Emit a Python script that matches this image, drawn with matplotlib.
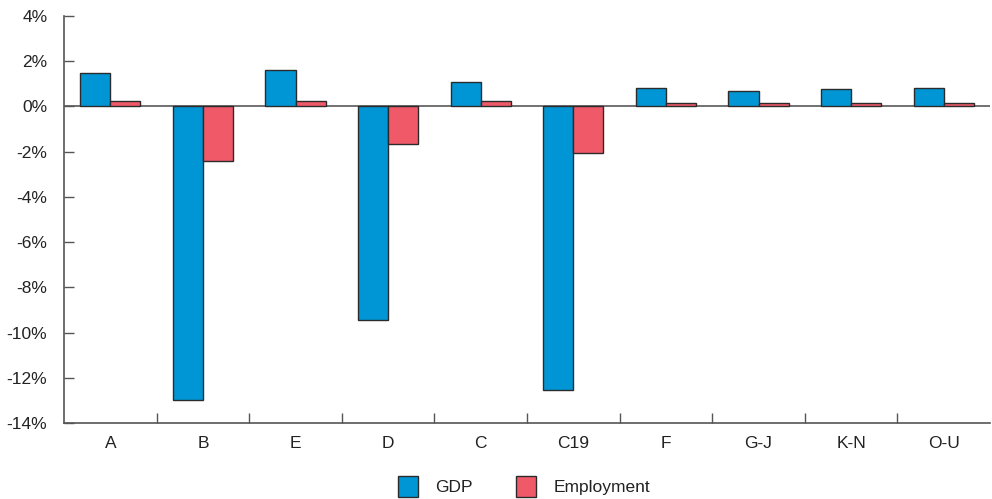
import matplotlib
matplotlib.use("Agg")
import matplotlib.pyplot as plt
import numpy as np
from matplotlib.ticker import FixedLocator, FuncFormatter

plt.rcParams['font.family'] = ['Liberation Sans', 'DejaVu Sans']

categories = ["A", "B", "E", "D", "C", "C19", "F", "G-J", "K-N", "O-U"]
gdp = [1.5, -13.0, 1.6, -9.45, 1.1, -12.55, 0.8, 0.7, 0.75, 0.8]
employment = [0.22, -2.4, 0.25, -1.65, 0.25, -2.05, 0.15, 0.15, 0.15, 0.15]
yticks = [4, 2, 0, -2, -4, -6, -8, -10, -12, -14]

fig = plt.figure(figsize=(9.92, 4.99), dpi=100)
ax = fig.add_axes([64/992, 1-423/499, (990-64)/992, (423-16)/499])

x = np.arange(len(categories))
w = 0.324
blue = "#0096D6"
red = "#F05A68"
edge = "#2b2b2b"
ax.axhline(0, color="#666666", lw=1.3, zorder=1)
ax.bar(x - w/2, gdp, w, color=blue, edgecolor=edge, linewidth=1.0, label="GDP", zorder=2)
ax.bar(x + w/2, employment, w, color=red, edgecolor=edge, linewidth=1.0, label="Employment", zorder=2)

ax.set_xlim(-0.5, len(categories) - 0.5)
ax.set_ylim(-14, 4)
ax.set_yticks(yticks)
ax.yaxis.set_major_formatter(FuncFormatter(lambda v, p: f"{v:.0f}%"))
ax.set_xticks(x)
ax.set_xticklabels(categories)
ax.xaxis.set_minor_locator(FixedLocator(np.arange(0.5, len(categories) - 0.5, 1)))
ax.tick_params(axis='x', which='major', length=0, pad=9, labelsize=12.5, colors="#222222")
ax.tick_params(axis='x', which='minor', direction='in', length=7, width=1.0, color="#555555")
ax.tick_params(axis='y', direction='in', length=7, width=1.0, color="#555555", labelsize=12.5, pad=12)
for lbl in ax.get_yticklabels():
    lbl.set_color("#222222")
for s in ["top", "right"]:
    ax.spines[s].set_visible(False)
for s in ["left", "bottom"]:
    ax.spines[s].set_color("#555555")
    ax.spines[s].set_linewidth(1.2)

leg = fig.legend(loc="lower center", bbox_to_anchor=(0.528, -0.028), ncol=2, frameon=False,
                 fontsize=12.5, handlelength=1.15, handleheight=1.5, columnspacing=2.5, handletextpad=1.0)
for t in leg.get_texts():
    t.set_color("#222222")

fig.savefig("out.png", dpi=100)
